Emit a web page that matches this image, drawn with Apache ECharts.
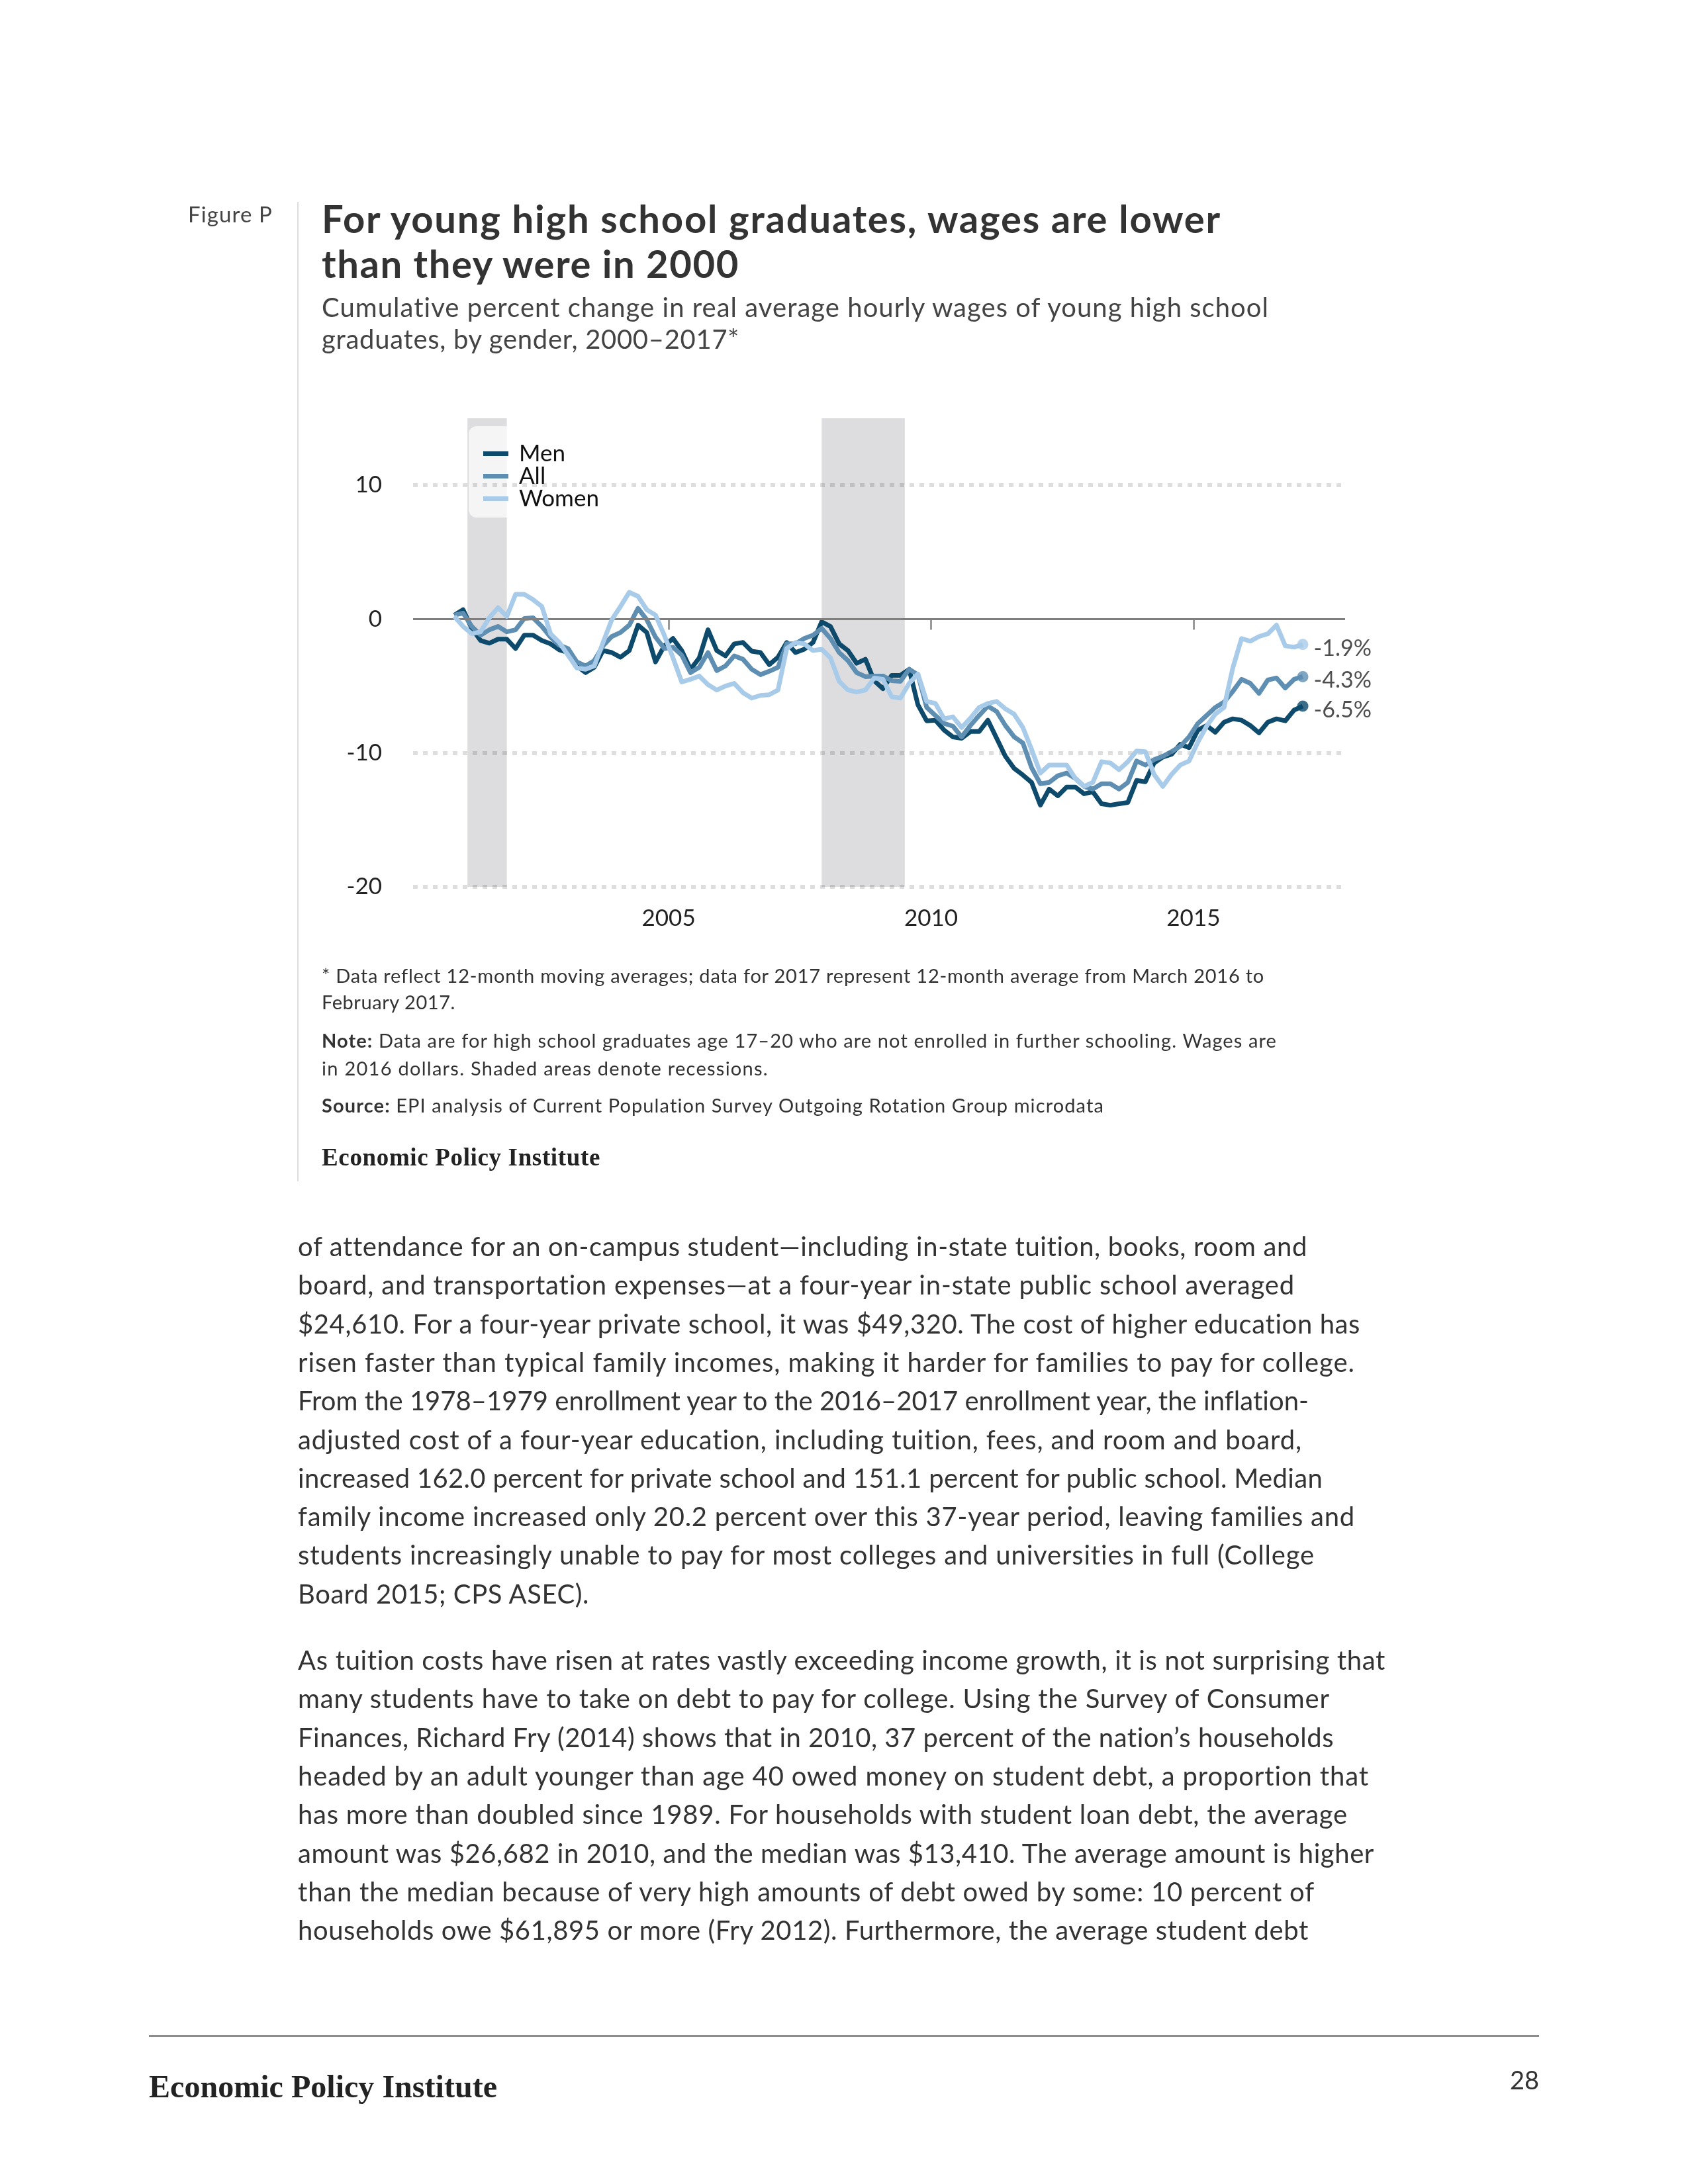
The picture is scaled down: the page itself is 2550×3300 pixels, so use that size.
<!DOCTYPE html>
<html><head><meta charset="utf-8">
<script src="https://cdn.jsdelivr.net/npm/echarts@6/dist/echarts.min.js"></script>
<style>
html,body{margin:0;padding:0;background:#fff;}
#page{position:relative;width:2550px;height:3300px;overflow:hidden;background:#fff;}
#chart{position:absolute;left:0;top:0;width:2550px;height:3300px;}
.ln{position:absolute;white-space:nowrap;font-family:Lato,"Noto Sans",sans-serif;color:#333;font-variant-ligatures:none;}
.serif{font-family:"Liberation Serif","DejaVu Serif",serif;font-weight:700;color:#222;}
#divider{position:absolute;left:449px;top:305px;width:2px;height:1480px;background:#dddddd;}
#rule{position:absolute;left:225px;top:3075px;width:2100px;height:3px;background:#8c8c8c;}
</style></head><body>
<div id="page">
<div id="chart"></div>
<div id="divider"></div>
<div id="rule"></div>
<div id="texts"></div>
</div>
<script>
// ---- Data (12-month moving averages, sampled every two months) ----
const months = [
 '2000-12',
 '2001-02','2001-04','2001-06','2001-08','2001-10','2001-12',
 '2002-02','2002-04','2002-06','2002-08','2002-10','2002-12',
 '2003-02','2003-04','2003-06','2003-08','2003-10','2003-12',
 '2004-02','2004-04','2004-06','2004-08','2004-10','2004-12',
 '2005-02','2005-04','2005-06','2005-08','2005-10','2005-12',
 '2006-02','2006-04','2006-06','2006-08','2006-10','2006-12',
 '2007-02','2007-04','2007-06','2007-08','2007-10','2007-12',
 '2008-02','2008-04','2008-06','2008-08','2008-10','2008-12',
 '2009-02','2009-04','2009-06','2009-08','2009-10','2009-12',
 '2010-02','2010-04','2010-06','2010-08','2010-10','2010-12',
 '2011-02','2011-04','2011-06','2011-08','2011-10','2011-12',
 '2012-02','2012-04','2012-06','2012-08','2012-10','2012-12',
 '2013-02','2013-04','2013-06','2013-08','2013-10','2013-12',
 '2014-02','2014-04','2014-06','2014-08','2014-10','2014-12',
 '2015-02','2015-04','2015-06','2015-08','2015-10','2015-12',
 '2016-02','2016-04','2016-06','2016-08','2016-10','2016-12',
 '2017-02'
];
const men = [
 0.3,
 0.7,-0.7,-1.6,-1.8,-1.5,-1.5,
 -2.2,-1.2,-1.2,-1.6,-1.85,-2.3,
 -2.5,-3.5,-4.0,-3.6,-2.35,-2.5,
 -2.85,-2.35,-0.45,-1.0,-3.2,-2.0,
 -1.45,-2.35,-3.75,-2.9,-0.8,-2.35,
 -2.75,-1.85,-1.75,-2.4,-2.5,-3.4,
 -2.85,-1.75,-2.5,-2.25,-1.75,-0.2,
 -0.55,-1.85,-2.35,-3.3,-3.0,-4.6,
 -5.2,-4.2,-4.2,-3.75,-6.4,-7.6,
 -7.55,-8.3,-8.8,-8.9,-8.4,-8.4,
 -7.55,-8.9,-10.25,-11.15,-11.65,-12.2,
 -13.9,-12.7,-13.2,-12.55,-12.55,-13.05,
 -12.9,-13.8,-13.9,-13.8,-13.7,-12.05,
 -12.15,-10.75,-10.3,-10.1,-9.35,-9.6,
 -8.3,-7.95,-8.45,-7.7,-7.45,-7.55,
 -7.95,-8.5,-7.7,-7.45,-7.6,-6.8,
 -6.5
];
const all = [
 0.3,
 0.45,-0.55,-1.2,-0.8,-0.55,-0.95,
 -0.8,0.05,0.1,-0.55,-1.35,-1.95,
 -2.2,-3.2,-3.5,-3.1,-2.0,-1.3,
 -1.0,-0.45,0.8,-0.05,-1.35,-2.2,
 -2.1,-2.7,-4.0,-3.6,-2.5,-3.85,
 -3.5,-2.75,-3.0,-3.75,-4.15,-3.9,
 -3.6,-1.85,-1.85,-1.45,-1.2,-0.7,
 -1.45,-2.5,-3.1,-4.0,-4.3,-4.25,
 -4.25,-4.6,-4.65,-3.75,-4.15,-6.6,
 -7.2,-7.8,-8.0,-8.8,-7.95,-7.2,
 -6.5,-6.9,-7.95,-8.8,-9.25,-11.1,
 -12.3,-12.2,-11.7,-11.5,-11.9,-12.5,
 -12.7,-12.3,-12.3,-12.7,-12.2,-10.6,
 -10.9,-10.5,-10.25,-9.9,-9.5,-8.8,
 -7.8,-7.2,-6.6,-6.2,-5.4,-4.5,
 -4.8,-5.55,-4.55,-4.4,-5.15,-4.5,
 -4.3
];
const women = [
 0.2,
 -0.55,-1.1,-0.95,0.1,0.85,0.2,
 1.85,1.85,1.45,0.95,-1.1,-1.75,
 -2.7,-3.65,-3.75,-3.5,-1.75,-0.05,
 0.95,2.0,1.7,0.7,0.3,-1.2,
 -2.9,-4.7,-4.5,-4.25,-4.9,-5.3,
 -5.0,-4.8,-5.5,-5.9,-5.7,-5.65,
 -5.3,-2.2,-1.75,-1.85,-2.35,-2.25,
 -2.9,-4.65,-5.3,-5.45,-5.3,-4.4,
 -4.5,-5.8,-5.9,-4.8,-4.1,-6.15,
 -6.3,-7.45,-7.3,-8.1,-7.4,-6.6,
 -6.3,-6.15,-6.7,-7.1,-8.1,-9.75,
 -11.5,-10.9,-10.9,-10.9,-11.9,-12.5,
 -12.2,-10.65,-10.75,-11.25,-10.65,-9.85,
 -9.9,-11.6,-12.5,-11.6,-10.9,-10.6,
 -9.2,-8.0,-7.1,-6.6,-3.65,-1.45,
 -1.65,-1.3,-1.1,-0.45,-2.0,-2.1,
 -1.9
];
const seriesNames = ['Men','All','Women'];
const seriesColors = ['#0d4a6b','#5e8fb3','#a8cbe9'];
const xTicks = [2005, 2010, 2015];
const yTicks = [-20, -10, 0, 10];
const recessions = [['2001-03','2001-11'], ['2007-12','2009-06']];

// ---- Page text ----
const figLabel = ['Figure P'];
const titleLines = ['For young high school graduates, wages are lower', 'than they were in 2000'];
const subtitleLines = ['Cumulative percent change in real average hourly wages of young high school', 'graduates, by gender, 2000–2017*'];
const footnoteLines = ['* Data reflect 12-month moving averages; data for 2017 represent 12-month average from March 2016 to', 'February 2017.'];
const noteLines = ['<b>Note:</b> Data are for high school graduates age 17–20 who are not enrolled in further schooling. Wages are', 'in 2016 dollars. Shaded areas denote recessions.'];
const sourceLines = ['<b>Source:</b> EPI analysis of Current Population Survey Outgoing Rotation Group microdata'];
const para1 = [
 'of attendance for an on-campus student—including in-state tuition, books, room and',
 'board, and transportation expenses—at a four-year in-state public school averaged',
 '$24,610. For a four-year private school, it was $49,320. The cost of higher education has',
 'risen faster than typical family incomes, making it harder for families to pay for college.',
 'From the 1978–1979 enrollment year to the 2016–2017 enrollment year, the inflation-',
 'adjusted cost of a four-year education, including tuition, fees, and room and board,',
 'increased 162.0 percent for private school and 151.1 percent for public school. Median',
 'family income increased only 20.2 percent over this 37-year period, leaving families and',
 'students increasingly unable to pay for most colleges and universities in full (College',
 'Board 2015; CPS ASEC).'
];
const para2 = [
 'As tuition costs have risen at rates vastly exceeding income growth, it is not surprising that',
 'many students have to take on debt to pay for college. Using the Survey of Consumer',
 'Finances, Richard Fry (2014) shows that in 2010, 37 percent of the nation’s households',
 'headed by an adult younger than age 40 owed money on student debt, a proportion that',
 'has more than doubled since 1989. For households with student loan debt, the average',
 'amount was $26,682 in 2010, and the median was $13,410. The average amount is higher',
 'than the median because of very high amounts of debt owed by some: 10 percent of',
 'households owe $61,895 or more (Fry 2012). Furthermore, the average student debt'
];

const texts = document.getElementById('texts');
function addLines(lines, o) {
  lines.forEach((s, i) => {
    const d = document.createElement('div');
    d.className = 'ln' + (o.serif ? ' serif' : '');
    d.innerHTML = s;
    d.style.top = (o.top + i * o.lh) + 'px';
    d.style.lineHeight = o.lh + 'px';
    d.style.fontSize = o.size + 'px';
    if (o.right !== undefined) d.style.right = o.right + 'px'; else d.style.left = o.left + 'px';
    if (o.weight) d.style.fontWeight = o.weight;
    if (o.color) d.style.color = o.color;
    texts.appendChild(d);
    if (o.widths && o.widths[i]) {
      const w = d.getBoundingClientRect().width;
      const n = d.textContent.length;
      d.style.letterSpacing = ((o.widths[i] - w) / n).toFixed(3) + 'px';
    }
  });
}
addLines(figLabel, {left:284, top:305, lh:36, size:33, color:'#444', widths:[128]});
addLines(titleLines, {left:486, top:296, lh:68, size:58, weight:700, color:'#333', widths:[1359, 631]});
addLines(subtitleLines, {left:486, top:440, lh:48, size:40, color:'#444', widths:[1431, 631]});
addLines(footnoteLines, {left:486, top:1454, lh:40, size:29, color:'#333', widths:[1424, 202]});
addLines(noteLines, {left:486, top:1551, lh:42, size:29, color:'#333', widths:[1443, 675]});
addLines(sourceLines, {left:486, top:1650, lh:40, size:29, color:'#333', widths:[1182]});
addLines(['Economic Policy Institute'], {left:486, top:1729, lh:40, size:37, serif:true, widths:[421]});
addLines(para1, {left:450, top:1854, lh:58.3, size:40, color:'#333', widths:[1525,1506,1605,1597,1527,1517,1548,1597,1536,440]});
addLines(para2, {left:450, top:2479, lh:58.3, size:40, color:'#333', widths:[1643,1559,1565,1618,1586,1626,1536,1527]});
addLines(['Economic Policy Institute'], {left:225, top:3126, lh:54, size:48, serif:true, widths:[526]});
addLines(['28'], {right:225, top:3120, lh:44, size:38, color:'#333'});

// ---- Chart helpers ----
const toYear = s => { const p = s.split('-').map(Number); return p[0] + (p[1]-1)/12; };
const endOfMonth = s => { const p = s.split('-').map(Number); return p[0] + p[1]/12; };
const xs = months.map(toYear);
const pairs = arr => arr.map((v,i) => [xs[i], v]);
const seriesData = [men, all, women];
const last = xs.length - 1;

const chart = echarts.init(document.getElementById('chart'), null, {renderer:'canvas'});
const option = {
  animation: false,
  backgroundColor: 'transparent',
  grid: {left: 624, top: 632, width: 1408, height: 708, containLabel: false},
  xAxis: {
    type: 'value', min: 2000.13, max: 2017.89,
    splitLine: {show: false},
    axisLine: {show: false},
    axisTick: {show: true, length: 16, customValues: xTicks, lineStyle: {color: '#9a9a9a', width: 3}},
    axisLabel: {customValues: xTicks, formatter: v => String(v), fontSize: 35, color: '#222', margin: 30, fontFamily: 'Lato'}
  },
  yAxis: {
    type: 'value', min: -20, max: 15,
    splitLine: {show: false},
    axisLine: {show: false},
    axisTick: {show: false},
    axisLabel: {customValues: yTicks, formatter: v => String(v), fontSize: 35, color: '#222', margin: 47, fontFamily: 'Lato'}
  },
  legend: {
    data: seriesNames,
    orient: 'vertical',
    left: 708, top: 644,
    icon: 'rect',
    itemWidth: 38, itemHeight: 7, itemGap: -1,
    backgroundColor: 'rgba(255,255,255,0.72)',
    borderRadius: 12,
    padding: [24, 24, 11, 22],
    textStyle: {fontSize: 35, lineHeight: 32, color: '#111', fontFamily: 'Lato', padding: [0,0,0,11]}
  },
  series: [
    {
      type: 'line', name: 'recessions', data: [], z: 1, silent: true,
      markArea: {
        silent: true,
        itemStyle: {color: '#dddcdf'},
        data: recessions.map(r => [{xAxis: toYear(r[0])}, {xAxis: endOfMonth(r[1])}])
      }
    },
    {
      type: 'line', name: 'gridlines', data: [], z: 2, silent: true,
      markLine: {
        silent: true, symbol: 'none', label: {show: false},
        data: yTicks.map(v => v === 0
          ? {yAxis: v, lineStyle: {type: 'solid', width: 3, color: '#7f7f7f'}}
          : {yAxis: v, lineStyle: {type: [7, 8], width: 6, color: 'rgba(0,0,0,0.13)'}})
      }
    }
  ].concat(seriesNames.map((n, i) => ({
    type: 'line', name: n, data: pairs(seriesData[i]), z: 3 + i,
    showSymbol: false, symbol: 'none',
    lineStyle: {width: 7, color: seriesColors[i], join: 'round'},
    itemStyle: {color: seriesColors[i]}
  }))).concat([{
    type: 'scatter', name: 'ends', z: 7, silent: true,
    symbolSize: 17,
    data: seriesNames.map((n, i) => ({
      value: [xs[last], seriesData[i][last]],
      itemStyle: {color: seriesColors[i]}
    })),
    label: {
      show: true, position: 'right', distance: 8, offset: [0, 6],
      fontSize: 34, color: '#222', fontFamily: 'Lato',
      formatter: p => p.value[1].toFixed(1) + '%'
    }
  }])
};
chart.setOption(option);
</script>
</body></html>
